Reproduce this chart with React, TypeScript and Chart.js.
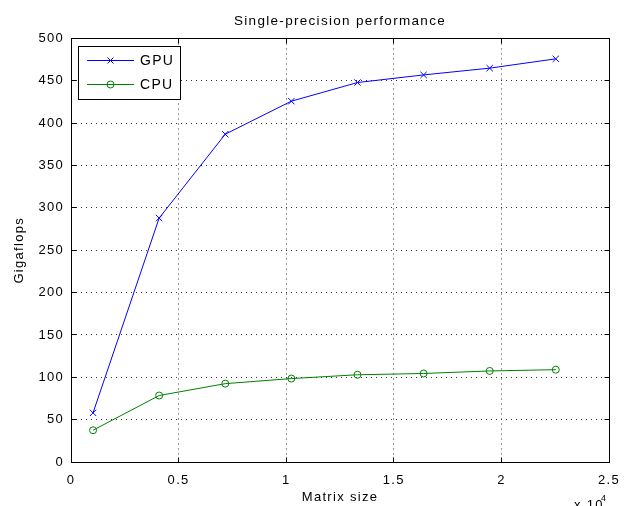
import React, { useEffect, useRef } from "react";
import { Chart, registerables } from "chart.js";

Chart.register(...registerables);

// ---- data ----
const matrixSizes = [1024, 4096, 7168, 10240, 13312, 16384, 19456, 22528];
const gpuGflops = [58, 288, 387, 426, 448, 457, 465, 476];
const cpuGflops = [37.5, 78.5, 92.5, 98.5, 103, 104.5, 107.5, 109];
const seriesNames = ["GPU", "CPU"];
const seriesColors = ["#0000ff", "#008000"];
const titleText = "Single-precision performance";
const xTitleText = "Matrix size";
const yTitleText = "Gigaflops";
const xExponentBase = "x 10";
const xExponent = "4";

const FONT = "'Liberation Sans', Arial, Helvetica, sans-serif";
const SPACING = "1.3px";

const align = (p: number) => Math.round(p - 0.5) + 0.5;

const spacingPlugin = {
  id: "spacing",
  beforeUpdate(chart: any) {
    chart.ctx.letterSpacing = SPACING;
  },
  beforeLayout(chart: any) {
    chart.ctx.letterSpacing = SPACING;
  },
  beforeDraw(chart: any) {
    chart.ctx.letterSpacing = SPACING;
  },
};

const framePlugin = {
  id: "frame",
  beforeDatasetsDraw(chart: any) {
    const { ctx, chartArea: a, scales } = chart;
    const L = align(a.left);
    const R = align(a.right);
    const T = align(a.top);
    const B = align(a.bottom);
    ctx.save();
    ctx.setLineDash([]);
    ctx.strokeStyle = "#000";
    ctx.lineWidth = 1;
    ctx.strokeRect(L, T, R - L, B - T);
    const tl = 5;
    ctx.beginPath();
    scales.y.ticks.forEach((t: any) => {
      const y = align(scales.y.getPixelForValue(t.value));
      ctx.moveTo(L, y);
      ctx.lineTo(L + tl, y);
      ctx.moveTo(R, y);
      ctx.lineTo(R - tl, y);
    });
    scales.x.ticks.forEach((t: any) => {
      const x = align(scales.x.getPixelForValue(t.value));
      ctx.moveTo(x, B);
      ctx.lineTo(x, B - tl);
      ctx.moveTo(x, T);
      ctx.lineTo(x, T + tl);
    });
    ctx.stroke();
    ctx.restore();
  },
};

const legendPlugin = {
  id: "boxLegend",
  afterDraw(chart: any) {
    const { ctx } = chart;
    ctx.save();
    ctx.letterSpacing = SPACING;
    ctx.setLineDash([]);
    const bx = 78.5, by = 46.5, bw = 102, bh = 53;
    ctx.fillStyle = "#fff";
    ctx.fillRect(bx, by, bw, bh);
    ctx.strokeStyle = "#000";
    ctx.lineWidth = 1;
    ctx.strokeRect(bx, by, bw, bh);
    const rows = [60.5, 84.5];
    chart.data.datasets.forEach((ds: any, i: number) => {
      const y = rows[i];
      ctx.strokeStyle = ds.borderColor;
      ctx.lineWidth = 1;
      ctx.beginPath();
      ctx.moveTo(87, y);
      ctx.lineTo(134, y);
      ctx.stroke();
      const cx = 110.5;
      ctx.beginPath();
      if (ds.pointStyle === "circle") {
        ctx.arc(cx, y, ds.pointRadius, 0, Math.PI * 2);
      } else {
        const d = 3;
        ctx.moveTo(cx - d, y - d);
        ctx.lineTo(cx + d, y + d);
        ctx.moveTo(cx - d, y + d);
        ctx.lineTo(cx + d, y - d);
      }
      ctx.stroke();
      ctx.fillStyle = "#000";
      ctx.font = `14px ${FONT}`;
      ctx.textBaseline = "middle";
      ctx.textAlign = "left";
      ctx.fillText(ds.label, 140, y + 1);
    });
    // x 10^4 exponent label
    ctx.fillStyle = "#000";
    ctx.textAlign = "left";
    ctx.textBaseline = "alphabetic";
    ctx.font = `13px ${FONT}`;
    ctx.fillText(xExponentBase, 574, 509);
    ctx.font = `9px ${FONT}`;
    ctx.fillText(xExponent, 601, 501);
    ctx.restore();
  },
};

export default function App() {
  const ref = useRef<HTMLCanvasElement | null>(null);

  useEffect(() => {
    if (!ref.current) return;
    Chart.defaults.color = "#000";
    Chart.defaults.font.family = FONT;
    Chart.defaults.font.size = 13;
    const gridOpts = {
      display: true,
      color: "#333",
      lineWidth: 1,
      drawTicks: false,
    };
    const chart = new Chart(ref.current, {
      type: "line",
      data: {
        datasets: [
          {
            label: seriesNames[0],
            data: matrixSizes.map((x, i) => ({ x, y: gpuGflops[i] })),
            borderColor: seriesColors[0],
            backgroundColor: "transparent",
            borderWidth: 1,
            pointStyle: "crossRot",
            pointRadius: 4.5,
            pointBorderWidth: 1,
            pointBorderColor: seriesColors[0],
            tension: 0,
          },
          {
            label: seriesNames[1],
            data: matrixSizes.map((x, i) => ({ x, y: cpuGflops[i] })),
            borderColor: seriesColors[1],
            backgroundColor: "transparent",
            borderWidth: 1,
            pointStyle: "circle",
            pointRadius: 3.5,
            pointBorderWidth: 1,
            pointBackgroundColor: "transparent",
            pointBorderColor: seriesColors[1],
            tension: 0,
          },
        ],
      },
      options: {
        animation: false,
        responsive: false,
        devicePixelRatio: 1,
        layout: { padding: { left: 0, right: 26, top: 0, bottom: 0 } },
        plugins: {
          legend: { display: false },
          tooltip: { enabled: false },
          title: {
            display: true,
            fullSize: false,
            text: titleText,
            color: "#000",
            font: { size: 13.5, weight: "normal", family: FONT },
            padding: { top: 13, bottom: 9.3 },
          },
        },
        scales: {
          x: {
            type: "linear",
            min: 0,
            max: 25000,
            grid: { ...gridOpts, borderDash: [1, 4] } as any,
            border: { display: false, dash: [1, 4] } as any,
            ticks: {
              stepSize: 5000,
              padding: 11,
              maxRotation: 0,
              font: { size: 13 },
              callback: (v: any) => String(Number(v) / 10000),
            },
            title: {
              display: true,
              text: xTitleText,
              font: { size: 13 },
              padding: { top: 0, bottom: 1 },
            },
            afterFit: (s: any) => {
              s.height = 44;
            },
          },
          y: {
            min: 0,
            max: 500,
            grid: { ...gridOpts } as any,
            border: { display: false, dash: [1, 4] } as any,
            ticks: { stepSize: 50, padding: 7, font: { size: 13 } },
            title: {
              display: true,
              text: yTitleText,
              font: { size: 13 },
              padding: { top: 12, bottom: 0 },
            },
            afterFit: (s: any) => {
              s.width = 71;
            },
          },
        },
      } as any,
      plugins: [spacingPlugin, framePlugin, legendPlugin],
    });
    return () => chart.destroy();
  }, []);

  return (
    <div style={{ position: "absolute", left: 0, top: 0, width: 635, height: 506, background: "#fff" }}>
      <canvas ref={ref} width={635} height={506} />
    </div>
  );
}
